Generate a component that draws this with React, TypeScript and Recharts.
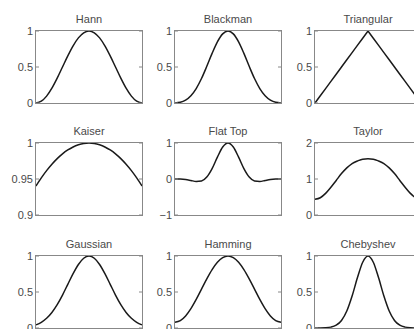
import { LineChart, Line, XAxis, YAxis } from "recharts";

const X_POS = [0, 0.05, 0.1, 0.15, 0.2, 0.25, 0.3, 0.35, 0.4, 0.45, 0.5, 0.55, 0.6, 0.65, 0.7, 0.75, 0.8, 0.85, 0.9, 0.95, 1];

const HANN = [0, 0.0245, 0.0955, 0.2061, 0.3455, 0.5, 0.6545, 0.7939, 0.9045, 0.9755, 1, 0.9755, 0.9045, 0.7939, 0.6545, 0.5, 0.3455, 0.2061, 0.0955, 0.0245, 0];
const BLACKMAN = [0, 0.0092, 0.0402, 0.1014, 0.2008, 0.34, 0.5098, 0.6892, 0.8492, 0.9602, 1, 0.9602, 0.8492, 0.6892, 0.5098, 0.34, 0.2008, 0.1014, 0.0402, 0.0092, 0];
const TRIANGULAR = [0, 0.1, 0.2, 0.3, 0.4, 0.5, 0.6, 0.7, 0.8, 0.9, 1, 0.9, 0.8, 0.7, 0.6, 0.5, 0.4, 0.3, 0.2, 0.1, 0];
const KAISER = [0.9403, 0.9515, 0.9616, 0.9705, 0.9783, 0.9849, 0.9903, 0.9945, 0.9975, 0.9994, 1, 0.9994, 0.9975, 0.9945, 0.9903, 0.9849, 0.9783, 0.9705, 0.9616, 0.9515, 0.9403];
const FLAT_TOP = [-0.0004, -0.0034, -0.0156, -0.0411, -0.0677, -0.0547, 0.0546, 0.2897, 0.6069, 0.8874, 1, 0.8874, 0.6069, 0.2897, 0.0546, -0.0547, -0.0677, -0.0411, -0.0156, -0.0034, -0.0004];
const TAYLOR = [0.44, 0.48, 0.6, 0.77, 0.96, 1.15, 1.31, 1.43, 1.5, 1.55, 1.56, 1.55, 1.5, 1.43, 1.31, 1.15, 0.96, 0.77, 0.6, 0.48, 0.44];
const GAUSSIAN = [0.0439, 0.0796, 0.1353, 0.2163, 0.3247, 0.4578, 0.6065, 0.7548, 0.8825, 0.9692, 1, 0.9692, 0.8825, 0.7548, 0.6065, 0.4578, 0.3247, 0.2163, 0.1353, 0.0796, 0.0439];
const HAMMING = [0.08, 0.1025, 0.1679, 0.2696, 0.3979, 0.54, 0.6821, 0.8104, 0.9121, 0.9775, 1, 0.9775, 0.9121, 0.8104, 0.6821, 0.54, 0.3979, 0.2696, 0.1679, 0.1025, 0.08];
const CHEBYSHEV = [0.0005, 0.0007, 0.0031, 0.012, 0.0387, 0.1046, 0.2357, 0.4436, 0.6968, 0.9137, 1, 0.9137, 0.6968, 0.4436, 0.2357, 0.1046, 0.0387, 0.012, 0.0031, 0.0007, 0.0005];

const UNIT_TICKS = [0, 0.5, 1];
const KAISER_TICKS = [0.9, 0.95, 1];
const FLAT_TOP_TICKS = [-1, 0, 1];
const TAYLOR_TICKS = [0, 1, 2];

const AXIS = "#888888";
const TEXT = "#4a4a4a";
const FONT = "'Liberation Sans', Arial, Helvetica, sans-serif";
const PLOT_W = 106;
const PLOT_H = 72;

const PANELS = [
  { title: "Hann", values: HANN, ticks: UNIT_TICKS, linear: false },
  { title: "Blackman", values: BLACKMAN, ticks: UNIT_TICKS, linear: false },
  { title: "Triangular", values: TRIANGULAR, ticks: UNIT_TICKS, linear: true },
  { title: "Kaiser", values: KAISER, ticks: KAISER_TICKS, linear: false },
  { title: "Flat Top", values: FLAT_TOP, ticks: FLAT_TOP_TICKS, linear: false },
  { title: "Taylor", values: TAYLOR, ticks: TAYLOR_TICKS, linear: false },
  { title: "Gaussian", values: GAUSSIAN, ticks: UNIT_TICKS, linear: false },
  { title: "Hamming", values: HAMMING, ticks: UNIT_TICKS, linear: false },
  { title: "Chebyshev", values: CHEBYSHEV, ticks: UNIT_TICKS, linear: false },
];

const COL_LEFT = [0, 139, 279];
const ROW_TOP = [0, 112, 225];

const fmt = (v: number) => (v < 0 ? `\u2212${Math.abs(v)}` : `${v}`);

// left label + inward tick marks on both sides of the box
function BoxTick(props: any) {
  const { x, y, payload } = props;
  const left = x + 3;
  const right = left + PLOT_W;
  return (
    <g>
      <line x1={left} x2={left + 3} y1={y} y2={y} stroke={AXIS} />
      <line x1={right - 3} x2={right} y1={y} y2={y} stroke={AXIS} />
      <text x={x} y={y} dy={4} textAnchor="end" fontSize={11} fill={TEXT} fontFamily={FONT}>
        {fmt(payload.value)}
      </text>
    </g>
  );
}

function Panel({ title, values, ticks, linear }: { title: string; values: number[]; ticks: number[]; linear: boolean }) {
  const data = X_POS.map((x, i) => ({ x, y: values[i] }));
  const domain = [ticks[0], ticks[ticks.length - 1]];
  return (
    <div style={{ position: "relative", width: 146, height: 113 }}>
      <div
        style={{
          position: "absolute",
          left: 36,
          width: PLOT_W,
          top: 13,
          textAlign: "center",
          fontSize: 11,
          lineHeight: "12px",
          color: TEXT,
          fontFamily: FONT,
        }}
      >
        {title}
      </div>
      <LineChart width={146} height={113} data={data} margin={{ top: 31, right: 4, bottom: 9, left: 0 }}>
        <XAxis dataKey="x" type="number" domain={[0, 1]} height={1} tick={false} tickLine={false} axisLine={false} />
        <YAxis type="number" domain={domain} ticks={ticks} width={36} tickSize={0} tickMargin={3} tick={<BoxTick />} axisLine={false} interval={0} />
        <Line
          dataKey="y"
          type={linear ? "linear" : "monotone"}
          stroke="#1a1a1a"
          strokeWidth={1.5}
          dot={false}
          isAnimationActive={false}
        />
      </LineChart>
      <div
        style={{
          position: "absolute",
          left: 35,
          top: 30,
          width: PLOT_W + 2,
          height: PLOT_H + 2,
          boxSizing: "border-box",
          border: `1px solid ${AXIS}`,
          pointerEvents: "none",
        }}
      />
    </div>
  );
}

export default function App() {
  return (
    <div style={{ position: "absolute", left: 0, top: 0, width: 414, height: 329, overflow: "hidden", background: "#fff" }}>
      {PANELS.map((p, i) => (
        <div key={p.title} style={{ position: "absolute", left: COL_LEFT[i % 3], top: ROW_TOP[Math.floor(i / 3)] }}>
          <Panel {...p} />
        </div>
      ))}
    </div>
  );
}
